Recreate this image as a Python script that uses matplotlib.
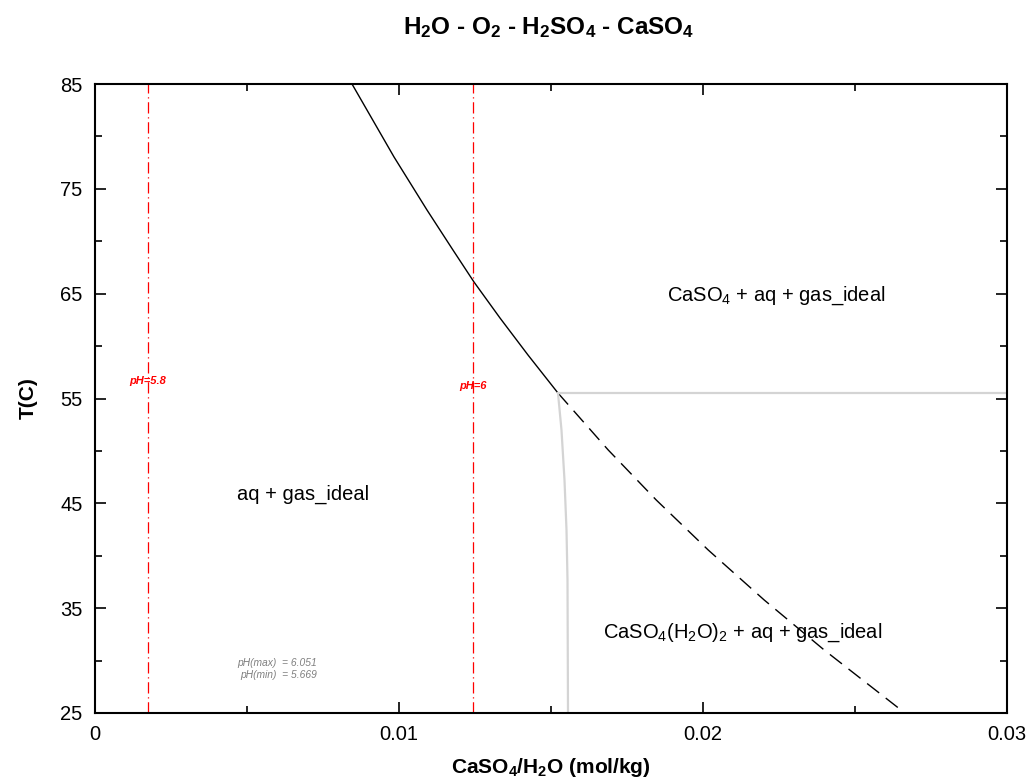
import matplotlib.pyplot as plt
from matplotlib.ticker import MultipleLocator

plt.rcParams['font.family'] = ['Liberation Sans', 'DejaVu Sans']
plt.rcParams['mathtext.default'] = 'regular'

# solubility boundary (stable part, solid)
sol_x = [0.008454, 0.009836, 0.010921, 0.011776, 0.012467, 0.013322, 0.014243, 0.015230]
sol_t = [85.0, 78.04, 72.98, 69.16, 66.11, 62.68, 59.15, 55.52]
# metastable continuation (dashed)
meta_x = [0.015230, 0.016882, 0.018461, 0.020171, 0.022013, 0.023987, 0.026640]
meta_t = [55.52, 50.09, 45.32, 40.55, 35.78, 31.01, 25.0]
# gypsum / anhydrite boundaries (gray)
gyp_x = [0.015230, 0.015345, 0.015444, 0.015510, 0.015543, 0.015559]
gyp_t = [55.52, 51.99, 47.22, 42.45, 37.68, 25.0]
hor_x = [0.015230, 0.03]
hor_t = [55.52, 55.52]
# pH iso-lines
ph_x = [0.00174, 0.01243]
ph_labels = ['pH=5.8', 'pH=6']
ph_label_t = [56.7, 56.2]

fig = plt.figure(figsize=(10.3, 7.83), dpi=100)
ax = fig.add_axes([95 / 1030, 1 - 713 / 783, 912 / 1030, 629 / 783])

ax.plot(sol_x, sol_t, color='black', lw=1.0)
ax.plot(meta_x, meta_t, color='black', lw=1.0, linestyle=(0, (11, 6)))
ax.plot(gyp_x, gyp_t, color='#d4d4d4', lw=1.6)
ax.plot(hor_x, hor_t, color='#d4d4d4', lw=1.6)

for xv, lab, ty in zip(ph_x, ph_labels, ph_label_t):
    ax.axvline(xv, color='red', lw=0.9, linestyle=(0, (9, 3, 1, 3)))
    ax.text(xv, ty, lab, color='red', fontsize=8, fontweight='bold',
            style='italic', ha='center', va='center')

ax.text(0.0224, 64.8, r'CaSO$_4$ + aq + gas_ideal', fontsize=14.5, ha='center', va='center')
ax.text(0.00685, 45.9, 'aq + gas_ideal', fontsize=14.5, ha='center', va='center')
ax.text(0.0213, 32.7, r'CaSO$_4$(H$_2$O)$_2$ + aq + gas_ideal', fontsize=14.5,
        ha='center', va='center')
ax.text(0.0073, 29.77, 'pH(max)  = 6.051', fontsize=7.4, style='italic',
        color='#808080', ha='right', va='center')
ax.text(0.0073, 28.62, 'pH(min)  = 5.669', fontsize=7.4, style='italic',
        color='#808080', ha='right', va='center')

ax.set_xlim(0, 0.03)
ax.set_ylim(25, 85)
ax.set_xticks([0, 0.01, 0.02, 0.03])
ax.set_xticklabels(['0', '0.01', '0.02', '0.03'])
ax.set_yticks([25, 35, 45, 55, 65, 75, 85])
ax.xaxis.set_minor_locator(MultipleLocator(0.005))
ax.yaxis.set_minor_locator(MultipleLocator(5))
ax.tick_params(which='both', direction='in', top=True, right=True, labelsize=14.5, width=1.2)
ax.tick_params(which='major', length=8, pad=9)
ax.tick_params(which='minor', length=5)
for s in ax.spines.values():
    s.set_linewidth(1.5)

ax.set_xlabel(r'CaSO$_4$/H$_2$O (mol/kg)', fontsize=15, fontweight='bold', labelpad=8)
ax.set_ylabel('T(C)', fontsize=15, fontweight='bold', labelpad=16)
fig.text(549 / 1030, 1 - 28 / 783, r'H$_2$O - O$_2$ - H$_2$SO$_4$ - CaSO$_4$',
         fontsize=17.5, fontweight='bold', ha='center', va='center')

fig.savefig('out.png', dpi=100)
